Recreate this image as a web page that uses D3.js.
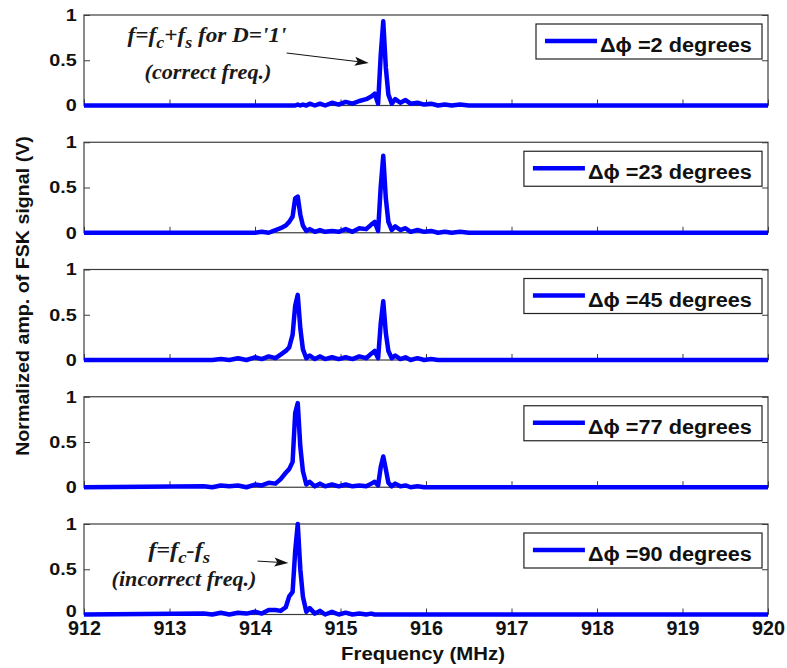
<!DOCTYPE html>
<html><head><meta charset="utf-8">
<script src="https://cdn.jsdelivr.net/npm/d3@7"></script>
<style>body{margin:0;background:#fff;} svg{display:block;}</style>
</head><body><svg id="c" width="787" height="668"></svg>
<script>
// ---- data ----
const freq = [912, 913.40, 913.50, 913.60, 913.70, 913.80, 913.90, 914.00, 914.08, 914.16, 914.24, 914.30, 914.36, 914.40, 914.44, 914.47, 914.50, 914.53, 914.56, 914.60, 914.64, 914.70, 914.76, 914.82, 914.90, 914.98, 915.06, 915.14, 915.22, 915.30, 915.36, 915.40, 915.44, 915.47, 915.50, 915.53, 915.56, 915.60, 915.64, 915.70, 915.76, 915.82, 915.90, 915.98, 916.06, 916.14, 916.22, 916.30, 916.40, 916.50, 916.60, 920];
const amp02 = [0,0,0,0,0,0,0,0,0,0,0,0,0,0,0,0, 0.01,0,0.01,0,0.02,0,0.02,0,0.03,0.01,0.04,0.02,0.05,0.07,0.10,0.13,0.02,0.55,0.93,0.42,0.12,0.02,0.07,0.03,0.06,0.02,0.03,0.01,0.02,0,0.01,0,0.01,0,0,0];
const amp23 = [0,0,0,0,0,0,0,0, 0.01,0,0.03,0.05,0.08,0.12,0.18,0.38,0.40,0.20,0.08,0.02,0.04,0.01,0.03,0.01,0.02,0.01,0.04,0.01,0.05,0.04,0.09,0.12,0.02,0.50,0.85,0.38,0.12,0.03,0.07,0.03,0.05,0.01,0.03,0.01,0.02,0,0.01,0,0.01,0,0,0];
const amp45 = [0,0,0, 0.01,0,0.02,0,0.03,0.01,0.04,0.02,0.06,0.10,0.14,0.28,0.60,0.72,0.35,0.12,0.02,0.05,0.01,0.04,0.01,0.03,0.01,0.03,0.01,0.04,0.02,0.07,0.10,0.02,0.40,0.65,0.30,0.10,0.02,0.05,0.01,0.03,0,0.02,0,0.01,0,0,0,0,0,0,0];
const amp77 = [0, 0.01,0,0.02,0.01,0.02,0,0.03,0.02,0.05,0.04,0.09,0.16,0.20,0.28,0.82,0.93,0.45,0.18,0.03,0.06,0.01,0.04,0.01,0.03,0.01,0.03,0.01,0.02,0.01,0.04,0.06,0.02,0.22,0.34,0.20,0.05,0.01,0.04,0.01,0.02,0,0.01,0,0,0,0,0,0,0,0,0];
const amp90 = [0, 0.01,0,0.02,0,0.02,0.01,0.03,0.01,0.05,0.05,0.04,0.08,0.20,0.25,0.70,1.00,0.50,0.20,0.03,0.07,0.01,0.04,0,0.03,0,0.02,0,0.01,0,0.01,0,0,0,0,0,0,0,0,0,0,0,0,0,0,0,0,0,0,0,0,0];
const phaseDeg = ["2", "23", "45", "77", "90"];
const xTicks = [912, 913, 914, 915, 916, 917, 918, 919, 920];
const yTicks = [0, 0.5, 1];
const yTickLabels = ["0", "0.5", "1"];
const xTitle = "Frequency (MHz)";
const yTitle = "Normalized amp. of FSK signal (V)";

const series = [amp02, amp23, amp45, amp77, amp90];

// ---- layout ----
const L = 84, R = 768, top0 = 15, step = 127.25, ph = 90.5;
const sansF = "'Liberation Sans', Arial, 'DejaVu Sans', sans-serif";
const serifF = "'Liberation Serif', 'Times New Roman', 'DejaVu Serif', serif";
const frameCol = "#3c3c3c";
const svg = d3.select("#c");
const x = d3.scaleLinear().domain([912, 920]).range([L, R]);

function fitScale(sel, target) {
  const w = sel.node().getComputedTextLength();
  return target / w;
}

const panels = [];
series.forEach((amp, i) => {
  const t = top0 + i * step;
  const y = d3.scaleLinear().domain([0, 1]).range([t + ph, t]);
  panels.push(y);
  const g = svg.append("g");

  // bottom axis ticks
  const xa = g.append("g").attr("transform", `translate(0,${t + ph})`)
    .call(d3.axisBottom(x).tickValues(xTicks).tickSize(-6).tickPadding(6)
      .tickFormat(i === series.length - 1 ? d3.format("d") : () => ""));
  xa.select(".domain").remove();
  xa.selectAll(".tick line").attr("stroke", frameCol);
  xa.selectAll(".tick text").attr("class", "xlab").attr("font-family", sansF).attr("font-weight", "bold")
    .attr("font-size", 20).attr("fill", "#111");

  // left axis
  const ya = g.append("g").attr("transform", `translate(${L},0)`)
    .call(d3.axisLeft(y).tickValues(yTicks).tickSize(-6).tickPadding(6)
      .tickFormat((d, k) => yTickLabels[k]));
  ya.select(".domain").remove();
  ya.selectAll(".tick line").attr("stroke", frameCol);
  ya.selectAll(".tick text").attr("font-family", sansF).attr("font-weight", "bold")
    .attr("font-size", 16.5).attr("fill", "#111")
    .attr("transform", "scale(1.2,1)");
  if (i === series.length - 1) {
    ya.selectAll(".tick text").filter(d => d === 0).attr("dy", "0.12em");
  }

  // right axis ticks
  const ra = g.append("g").attr("transform", `translate(${R},0)`)
    .call(d3.axisRight(y).tickValues(yTicks).tickSize(-6).tickFormat(() => ""));
  ra.select(".domain").remove();
  ra.selectAll(".tick line").attr("stroke", frameCol);

  // frame
  g.append("rect").attr("x", L).attr("y", t).attr("width", R - L).attr("height", ph)
    .attr("fill", "none").attr("stroke", frameCol).attr("stroke-width", 1.2);

  // spectrum line
  const line = d3.line().x((d, j) => x(freq[j])).y(d => y(d));
  g.append("path").datum(amp).attr("d", line).attr("fill", "none")
    .attr("stroke", "#0000ff").attr("stroke-width", 4.5)
    .attr("stroke-linejoin", "round").attr("stroke-linecap", "butt");

  // legend
  const boxRight = 762, boxTop = t + 9, boxH = 35;
  const lg = g.append("g");
  const box = lg.append("rect").attr("y", boxTop).attr("height", boxH)
    .attr("fill", "#fff").attr("stroke", "#222").attr("stroke-width", 1.2);
  const txt = lg.append("text").attr("font-family", sansF).attr("font-weight", "bold")
    .attr("font-size", 20.5).attr("fill", "#111").text(`Δϕ =${phaseDeg[i]} degrees`);
  const base = svg.append("text").attr("font-family", sansF).attr("font-weight", "bold")
    .attr("font-size", 20.5).text(`Δϕ =2 degrees`);
  const s = 152 / base.node().getComputedTextLength();
  base.remove();
  const tw = txt.node().getComputedTextLength() * s;
  const tx = boxRight - 10 - tw;
  txt.attr("transform", `translate(${tx},${t + 37}) scale(${s},1)`);
  box.attr("x", tx - 64).attr("width", boxRight - (tx - 64));
  lg.append("line").attr("x1", tx - 55).attr("x2", tx - 3).attr("y1", t + 26).attr("y2", t + 26)
    .attr("stroke", "#0000ff").attr("stroke-width", 4.5);
});

// x tick label stretch for bottom panel
svg.selectAll("text.xlab").filter(function () { return this.textContent.length === 3; })
  .each(function () {
    const w = this.getComputedTextLength();
    d3.select(this).attr("transform", `scale(${33 / w},1)`);
  });

// axis titles
const xt = svg.append("text").attr("font-family", sansF).attr("font-weight", "bold")
  .attr("font-size", 18).attr("fill", "#111").attr("text-anchor", "middle").text(xTitle);
const sx = fitScale(xt, 164);
xt.attr("transform", `translate(423,660) scale(${sx},1)`);

const yt = svg.append("text").attr("font-family", sansF).attr("font-weight", "bold")
  .attr("font-size", 17.5).attr("fill", "#111").attr("text-anchor", "middle").text(yTitle);
const sy = fitScale(yt, 320);
yt.attr("transform", `translate(29,296) rotate(-90) scale(${sy},1)`);

// ---- annotations (data coordinates) ----
function arrow(y, f0, a0, f1, a1) {
  const x0 = x(f0), y0 = y(a0), x1 = x(f1), y1 = y(a1);
  const ang = Math.atan2(y1 - y0, x1 - x0);
  const len = 14, hw = 4.5;
  const bx = x1 - len * Math.cos(ang), by = y1 - len * Math.sin(ang);
  svg.append("line").attr("x1", x0).attr("y1", y0).attr("x2", bx + 3 * Math.cos(ang)).attr("y2", by + 3 * Math.sin(ang))
    .attr("stroke", "#111").attr("stroke-width", 1);
  const px = -Math.sin(ang), py = Math.cos(ang);
  svg.append("path").attr("d",
    `M${x1},${y1} L${bx + hw * px},${by + hw * py} L${bx + 3 * Math.cos(ang)},${by + 3 * Math.sin(ang)} L${bx - hw * px},${by - hw * py} Z`)
    .attr("fill", "#111");
}

function formulaText(y, f, a, parts, targetW) {
  const t = svg.append("text").attr("font-family", serifF).attr("font-style", "italic")
    .attr("font-weight", "bold").attr("font-size", 22).attr("fill", "#1a1a1a");
  parts.forEach(p => {
    t.append("tspan").attr("dy", p.dy || 0).attr("font-size", p.sub ? 17 : 22).text(p.t);
  });
  const s = targetW / t.node().getComputedTextLength();
  t.attr("transform", `translate(${x(f)},${y(a)}) scale(${s},1)`);
}
function centerText(y, f, a, str, targetW) {
  const t = svg.append("text").attr("font-family", serifF).attr("font-style", "italic")
    .attr("font-weight", "bold").attr("font-size", 21).attr("fill", "#1a1a1a")
    .attr("text-anchor", "middle").text(str);
  const s = targetW / t.node().getComputedTextLength();
  t.attr("transform", `translate(${x(f)},${y(a)}) scale(${s},1)`);
}

// top panel annotation
formulaText(panels[0], 912.51, 0.70, [
  { t: "f=f" }, { t: "c", sub: true, dy: 6 }, { t: "+f", dy: -6 }, { t: "s", sub: true, dy: 6 },
  { t: " for D='1'", dy: -6 }], 159);
centerText(panels[0], 913.45, 0.29, "(correct freq.)", 127);
arrow(panels[0], 914.37, 0.58, 915.33, 0.47);

// bottom panel annotation
formulaText(panels[4], 912.75, 0.64, [
  { t: "f=f" }, { t: "c", sub: true, dy: 6 }, { t: "-f", dy: -6 }, { t: "s", sub: true, dy: 6 }], 62);
centerText(panels[4], 913.17, 0.31, "(incorrect freq.)", 145);
arrow(panels[4], 914.03, 0.59, 914.39, 0.57);
</script>
</body></html>
